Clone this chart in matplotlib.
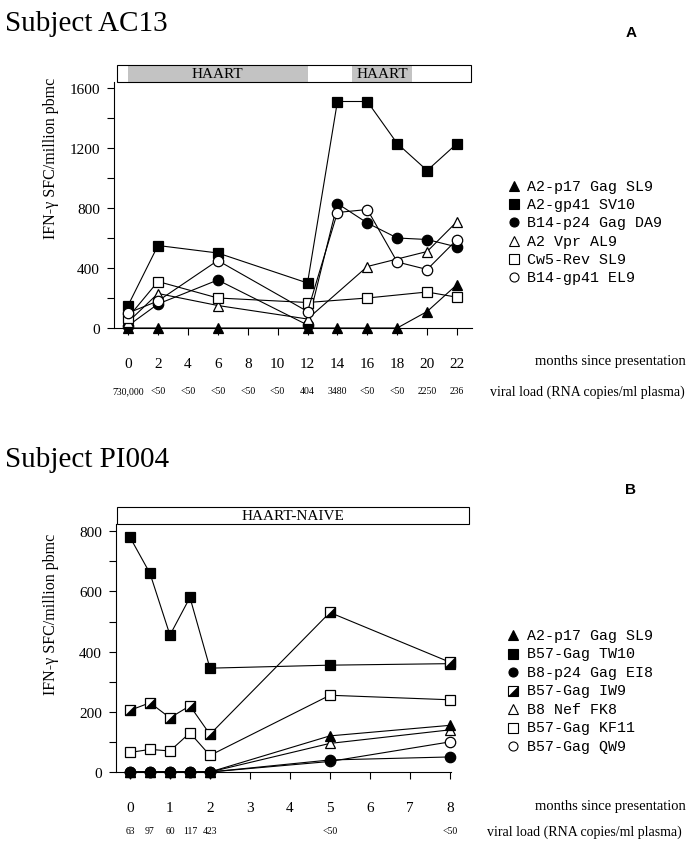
import matplotlib
matplotlib.use("Agg")
import matplotlib.pyplot as plt
from matplotlib.patches import Rectangle
from matplotlib.transforms import blended_transform_factory

SERIF = "Liberation Serif"
MONO = "Liberation Mono"

# ---- panel A : Subject AC13 ----
months_a = [0, 2, 6, 12, 14, 16, 18, 20, 22]
months_a_short = [0, 2, 6, 12, 16, 20, 22]
a2_p17_gag_sl9 = [0, 0, 0, 0, 0, 0, 0, 110, 290]
a2_gp41_sv10 = [150, 550, 500, 300, 1510, 1510, 1230, 1050, 1230]
b14_p24_gag_da9 = [15, 160, 320, 20, 830, 700, 600, 590, 540]
a2_vpr_al9 = [40, 230, 150, 60, 410, 510, 710]
cw5_rev_sl9 = [70, 310, 200, 170, 200, 240, 205]
b14_gp41_el9 = [100, 180, 450, 110, 770, 790, 440, 390, 590]

ticks_a = [0, 2, 4, 6, 8, 10, 12, 14, 16, 18, 20, 22]
viral_a = ["730,000", "<50", "<50", "<50", "<50", "<50", "404", "3480",
           "<50", "<50", "2250", "236"]

# ---- panel B : Subject PI004 ----
months_b = [0, 0.5, 1, 1.5, 2, 5, 8]
a2_p17_gag_sl9_b = [0, 0, 0, 0, 0, 120, 155]
b57_gag_tw10 = [780, 660, 455, 580, 345, 355, 360]
b8_p24_gag_ei8 = [0, 0, 0, 0, 0, 40, 50]
b57_gag_iw9 = [205, 230, 180, 220, 125, 530, 365]
b8_nef_fk8 = [0, 0, 0, 0, 0, 95, 140]
b57_gag_kf11 = [65, 75, 70, 130, 55, 255, 240]
b57_gag_qw9 = [0, 0, 0, 0, 0, 35, 100]

ticks_b = [0, 1, 2, 3, 4, 5, 6, 7, 8]
viral_b_x = [0, 0.5, 1, 1.5, 2, 5, 8]
viral_b = ["63", "97", "60", "117", "423", "<50", "<50"]

W, H = 698, 853
fig = plt.figure(figsize=(W / 100, H / 100), dpi=100)

def px(x, y):
    return x / W, 1 - y / H

HALF = [(-1, -1), (1, -1), (1, 1), (-1, -1)]
MS = 7.5

styles = {
    "ftri": dict(marker="^", mfc="black", mec="black"),
    "fsq": dict(marker="s", mfc="black", mec="black"),
    "fcir": dict(marker="o", mfc="black", mec="black"),
    "otri": dict(marker="^", mfc="white", mec="black"),
    "osq": dict(marker="s", mfc="white", mec="black"),
    "ocir": dict(marker="o", mfc="white", mec="black"),
}

def series(ax, x, y, kind):
    if kind == "half":
        ax.plot(x, y, color="black", lw=0.8, clip_on=False, marker="s",
                mfc="white", mec="black", ms=MS, mew=0.9, zorder=3)
        ax.plot(x, y, ls="none", clip_on=False, marker=HALF, mfc="black",
                mec="black", ms=MS, mew=0.5, zorder=3)
    else:
        ax.plot(x, y, color="black", lw=0.8, clip_on=False, ms=MS, mew=0.9,
                zorder=3, **styles[kind])

def key(entries, xm, xt, y0, dy):
    for i, (kind, label) in enumerate(entries):
        fx, fy = px(xm, y0 + i * dy)
        if kind == "half":
            fig.add_artist(plt.Line2D([fx], [fy], marker="s", mfc="white",
                                      mec="black", ms=6.5, mew=0.8, ls="none"))
            fig.add_artist(plt.Line2D([fx], [fy], marker=HALF, mfc="black",
                                      mec="black", ms=6.5, mew=0.4, ls="none"))
        else:
            st = dict(styles[kind])
            fig.add_artist(plt.Line2D([fx], [fy], ms=6.5, mew=0.8, ls="none", **st))
        tx, ty = px(xt, y0 + i * dy)
        fig.text(tx, ty, label, family=MONO, fontsize=10.8, va="center", ha="left")

def style_axes(ax, ticks, ymax, ystep):
    for s in ("top", "right"):
        ax.spines[s].set_visible(False)
    for s in ("left", "bottom"):
        ax.spines[s].set_linewidth(0.8)
    ax.set_xticks(ticks)
    ax.set_xticklabels([str(t) for t in ticks], family=SERIF, fontsize=11)
    ax.set_yticks(range(0, ymax + 1, 2 * ystep))
    ax.set_yticks(range(0, ymax + 1, ystep), minor=True)
    ax.set_yticklabels([str(t) for t in range(0, ymax + 1, 2 * ystep)],
                       family=SERIF, fontsize=11)
    ax.tick_params(axis="x", direction="out", length=5, width=0.8, pad=16)
    ax.tick_params(axis="y", which="both", direction="out", length=5,
                   width=0.8, pad=5)

# ================= Panel A =================
axA = fig.add_axes([114 / W, 1 - 329 / H, (472 - 114) / W, (329 - 83) / H])
axA.set_xlim(-0.94, 23.0)
axA.set_ylim(0, 1640)
style_axes(axA, ticks_a, 1600, 200)

series(axA, months_a, a2_p17_gag_sl9, "ftri")
series(axA, months_a, a2_gp41_sv10, "fsq")
series(axA, months_a, b14_p24_gag_da9, "fcir")
series(axA, months_a_short, a2_vpr_al9, "otri")
series(axA, months_a_short, cw5_rev_sl9, "osq")
series(axA, months_a, b14_gp41_el9, "ocir")

trA = blended_transform_factory(axA.transData, axA.transAxes)
bar_h = 17 / 246
axA.add_patch(Rectangle((-0.74, 1.0), 23.64, bar_h, transform=trA, fc="white",
                        ec="none", clip_on=False))
axA.add_patch(Rectangle((0, 1.0), 12, bar_h, transform=trA, fc="#c3c3c3",
                        ec="none", clip_on=False))
axA.add_patch(Rectangle((15, 1.0), 4, bar_h, transform=trA, fc="#c3c3c3",
                        ec="none", clip_on=False))
axA.add_patch(Rectangle((-0.74, 1.0), 23.64, bar_h, transform=trA, fc="none",
                        ec="black", lw=0.8, clip_on=False))
axA.text(6, 1 + bar_h / 2, "HAART", transform=trA, ha="center", va="center",
         family=SERIF, fontsize=11)
axA.text(17, 1 + bar_h / 2, "HAART", transform=trA, ha="center", va="center",
         family=SERIF, fontsize=11)

for t, lab in zip(ticks_a, viral_a):
    axA.text(t, -63 / 246, lab, transform=trA, ha="center", va="center",
             family=SERIF, fontsize=7)

key([("ftri", "A2-p17 Gag SL9"), ("fsq", "A2-gp41 SV10"),
     ("fcir", "B14-p24 Gag DA9"), ("otri", "A2 Vpr AL9"),
     ("osq", "Cw5-Rev SL9"), ("ocir", "B14-gp41 EL9")],
    514, 527, 187, 18.2)

fig.text(*px(5, 31), "Subject AC13", family=SERIF, fontsize=21, va="baseline")
fig.text(*px(631, 37), "A", family="Liberation Sans", fontweight="bold",
         fontsize=11, va="baseline", ha="center")
fig.text(*px(51, 158), "IFN-\u03b3 SFC/million pbmc", family=SERIF, fontsize=11.5,
         rotation=90, ha="center", va="center")
fig.text(*px(610, 361), "months since presentation", family=SERIF,
         fontsize=10.5, ha="center", va="center")
fig.text(*px(490, 392), "viral load (RNA copies/ml plasma)", family=SERIF,
         fontsize=10, ha="left", va="center")

# ================= Panel B =================
axB = fig.add_axes([116 / W, 1 - 773 / H, (451 - 116) / W, (773 - 525) / H])
axB.set_xlim(-0.35, 8.03)
axB.set_ylim(0, 824)
style_axes(axB, ticks_b, 800, 100)

# open markers first so the filled ones sit on top at zero
series(axB, months_b, b57_gag_qw9, "ocir")
series(axB, months_b, b8_nef_fk8, "otri")
series(axB, months_b, b57_gag_kf11, "osq")
series(axB, months_b, b57_gag_tw10, "fsq")
series(axB, months_b, b57_gag_iw9, "half")
series(axB, months_b, a2_p17_gag_sl9_b, "ftri")
series(axB, months_b, b8_p24_gag_ei8, "fcir")

trB = blended_transform_factory(axB.transData, axB.transAxes)
bar_hb = 17 / 248
axB.add_patch(Rectangle((-0.325, 1.0), 8.8, bar_hb, transform=trB, fc="white",
                        ec="black", lw=0.8, clip_on=False))
axB.text(4.075, 1 + bar_hb / 2, "HAART-NAIVE", transform=trB, ha="center",
         va="center", family=SERIF, fontsize=11)

for t, lab in zip(viral_b_x, viral_b):
    axB.text(t, -59 / 248, lab, transform=trB, ha="center", va="center",
             family=SERIF, fontsize=7)

key([("ftri", "A2-p17 Gag SL9"), ("fsq", "B57-Gag TW10"),
     ("fcir", "B8-p24 Gag EI8"), ("half", "B57-Gag IW9"),
     ("otri", "B8 Nef FK8"), ("osq", "B57-Gag KF11"),
     ("ocir", "B57-Gag QW9")],
    513, 527, 636, 18.5)

fig.text(*px(5, 467), "Subject PI004", family=SERIF, fontsize=21, va="baseline")
fig.text(*px(631, 494), "B", family="Liberation Sans", fontweight="bold",
         fontsize=11, va="baseline", ha="center")
fig.text(*px(51, 614), "IFN-\u03b3 SFC/million pbmc", family=SERIF, fontsize=11.5,
         rotation=90, ha="center", va="center")
fig.text(*px(610, 807), "months since presentation", family=SERIF,
         fontsize=10.5, ha="center", va="center")
fig.text(*px(487, 832), "viral load (RNA copies/ml plasma)", family=SERIF,
         fontsize=10, ha="left", va="center")

fig.savefig("out.png", dpi=100, facecolor="white")
